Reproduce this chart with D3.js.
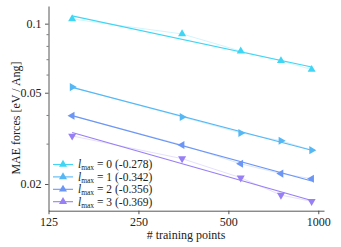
<!DOCTYPE html>
<html><head><meta charset="utf-8">
<script src="https://cdn.jsdelivr.net/npm/d3@7"></script>
<style>
html,body{margin:0;padding:0;background:#fff;}
</style></head>
<body><svg id="chart" width="341" height="247" font-family="Liberation Serif"></svg>
<script>
const trainingPoints = [150, 350, 550, 750, 950];
const lmaxLabels = ["0", "1", "2", "3"];
const exponents = [-0.278, -0.342, -0.356, -0.369];
const mae0 = [0.1048, 0.0902, 0.0759, 0.0689, 0.0631];
const mae1 = [0.0529, 0.0392, 0.0334, 0.0309, 0.0281];
const mae2 = [0.0397, 0.0296, 0.0245, 0.0222, 0.0211];
const mae3 = [0.0324, 0.0258, 0.0213, 0.0179, 0.0168];
const seriesValues = [mae0, mae1, mae2, mae3];
const colors = ["#3fd6f5", "#55b8f5", "#6c96f5", "#977ff5"];
const markerRot = [0, 90, -90, 180];
const xTicks = [125, 250, 500, 1000];
const yTicks = [0.02, 0.05, 0.1];
const yMinor = [0.03, 0.04, 0.06, 0.07, 0.08, 0.09];

const FONT = "Liberation Serif";
const svg = d3.select("#chart");
const x = d3.scaleLog().base(2).domain([125, 1045]).range([48.5, 324]);
const y = d3.scaleLog().domain([0.0153, 0.1194]).range([210.7, 6]);

function styleText(sel, size) {
  sel.attr("font-family", FONT).attr("font-size", size || 12).attr("fill", "#222");
}

const xAxis = d3.axisBottom(x).tickValues(xTicks).tickFormat(d3.format("d")).tickSize(3.5).tickSizeOuter(0).tickPadding(3);
const gx = svg.append("g").attr("transform", "translate(0,210.7)").call(xAxis);
gx.attr("font-family", FONT).attr("font-size", 12);
styleText(gx.selectAll("text"));
gx.selectAll("path,line").attr("stroke", "#444").attr("stroke-width", 0.9);

const yAxis = d3.axisLeft(y).tickValues(yTicks).tickFormat(d => String(d)).tickSize(3.5).tickSizeOuter(0).tickPadding(3.5);
const gy = svg.append("g").attr("transform", "translate(48.5,0)").call(yAxis);
gy.attr("font-family", FONT).attr("font-size", 12);
styleText(gy.selectAll("text"));
gy.selectAll("path,line").attr("stroke", "#444").attr("stroke-width", 0.9);
const yAxisMinor = d3.axisLeft(y).tickValues(yMinor).tickFormat("").tickSize(2).tickSizeOuter(0);
const gym = svg.append("g").attr("transform", "translate(48.5,0)").call(yAxisMinor);
gym.select("path").remove();
gym.selectAll("line").attr("stroke", "#444").attr("stroke-width", 0.7);

styleText(svg.append("text").attr("x", 186).attr("y", 239).attr("text-anchor", "middle")
  .text("# training points"));
styleText(svg.append("text").attr("transform", "translate(20,118) rotate(-90)").attr("text-anchor", "middle")
  .text("MAE forces [eV / Ang]"));

const tri = d3.symbol().type(d3.symbolTriangle).size(28);
const mlx = d3.mean(trainingPoints.map(Math.log));

seriesValues.forEach((vals, i) => {
  const pts = trainingPoints.map((t, j) => [t, vals[j]]);
  svg.append("path").datum(pts)
    .attr("d", d3.line().x(d => x(d[0])).y(d => y(d[1])))
    .attr("fill", "none").attr("stroke", colors[i]).attr("stroke-opacity", 0.3).attr("stroke-width", 0.8);
  const b = exponents[i];
  const a = d3.mean(vals.map(Math.log)) - b * mlx;
  const f = t => Math.exp(a + b * Math.log(t));
  const ends = [trainingPoints[0], trainingPoints[trainingPoints.length - 1]];
  svg.append("path").datum(ends)
    .attr("d", d3.line().x(t => x(t)).y(t => y(f(t))))
    .attr("fill", "none").attr("stroke", colors[i]).attr("stroke-width", 1.1);
  svg.append("g").selectAll("path").data(pts).join("path")
    .attr("d", tri)
    .attr("transform", d => `translate(${x(d[0])},${y(d[1])}) rotate(${markerRot[i]})`)
    .attr("fill", colors[i]);
});

const lg = svg.append("g");
lmaxLabels.forEach((l, i) => {
  const yy = 164.5 + i * 12.4;
  lg.append("line").attr("x1", 53).attr("x2", 73).attr("y1", yy).attr("y2", yy)
    .attr("stroke", colors[i]).attr("stroke-width", 1.1);
  lg.append("path").attr("d", tri).attr("transform", `translate(63,${yy})`).attr("fill", colors[i]);
  const t = lg.append("text").attr("x", 78).attr("y", yy + 3.8);
  styleText(t, 11.5);
  t.append("tspan").attr("font-style", "italic").text("l");
  t.append("tspan").attr("dy", 2).attr("font-size", 7.5).text("max");
  t.append("tspan").attr("dy", -2).text(` = ${l} (${exponents[i].toFixed(3)})`);
});
</script></body></html>
